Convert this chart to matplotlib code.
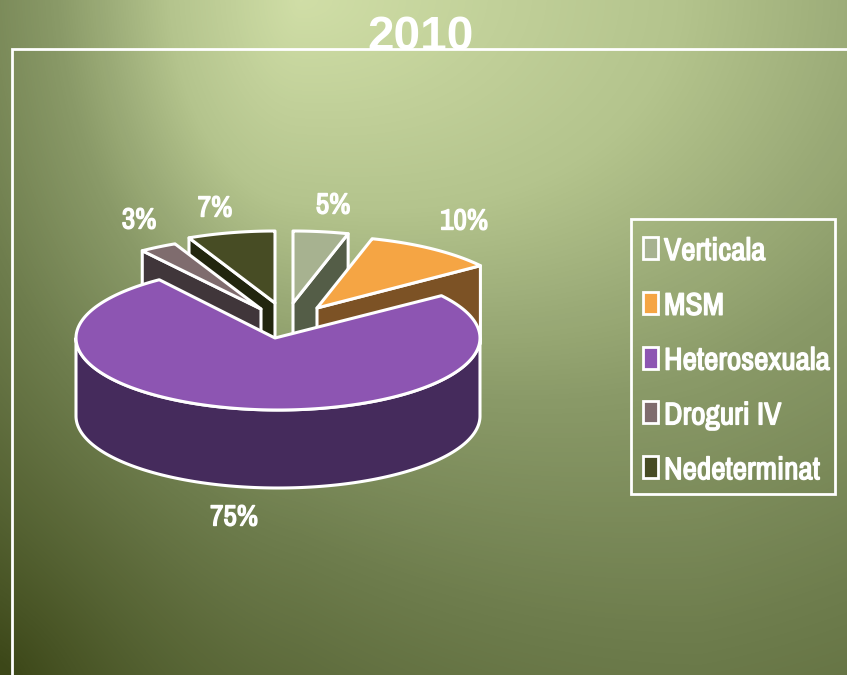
import numpy as np
import matplotlib
matplotlib.use("Agg")
import matplotlib.pyplot as plt
import matplotlib.patheffects as pe
from matplotlib.patches import Polygon, Rectangle
from matplotlib.colors import LinearSegmentedColormap

title = "2010"
labels = ["Verticala", "MSM", "Heterosexuala", "Droguri IV", "Nedeterminat"]
# the drawn shares, a bit off the rounded labels
values = [4.4, 10.6, 75, 3, 7]
pct_labels = ["5%", "10%", "75%", "3%", "7%"]

top_colors = ["#A7B290", "#F5A544", "#8D55B2", "#7F6C6E", "#474C24"]
side_colors = ["#545D47", "#7C5225", "#452B5C", "#40363A", "#22260F"]

# everything is in pixels of the 847x675 picture
W, H = 847, 675
CX, CY = 278, 338
APEX_X = 275
RX, RY = 202, 72
DEPTH = 78
offsets = [(15, -35), (39, -30), (0, 0), (-17, -29), (-3, -35)]
pct_pos = [(333, 205), (464, 221), (234, 517), (139, 220), (215, 208)]
NARROW = ["Archivo Narrow", "Liberation Sans"]
# the narrow font has no bold cut here, so thicken it with a thin outline
BOLD = [pe.withStroke(linewidth=1.0, foreground="white")]


def background():
    y, x = np.mgrid[0:H, 0:W]
    dx = x - 300.0
    ax_x = np.where(dx < 0, 430.0, 1150.0)
    # no jump at dx = 0, the lower right just fades out slower
    ax_y = 720.0 + 100.0 * np.clip(dx / 400.0, 0, 1)
    t = np.sqrt((dx / ax_x) ** 2 + (y / ax_y) ** 2)
    # extra darkening towards the bottom left corner
    corner = np.exp(-np.hypot(x, H - y) / 300.0)
    return t + 0.4 * corner


def slice_angles():
    # clockwise from 12 o'clock
    fr = np.cumsum([0] + values) / sum(values) * 360
    return 90 - fr[:-1], 90 - fr[1:]


def rim(start, end, ox, oy, dy=0):
    a = np.radians(np.linspace(start, end, 200))
    return np.column_stack([CX + ox + RX * np.cos(a), CY + oy - RY * np.sin(a) + dy])


fig = plt.figure(figsize=(W / 100, H / 100), dpi=100)
ax = fig.add_axes([0, 0, 1, 1])
ax.set_xlim(0, W)
ax.set_ylim(H, 0)
ax.axis("off")

cmap = LinearSegmentedColormap.from_list(
    "bg", [(0, "#D3E1A9"), (0.22, "#B4C48D"), (0.39, "#8A9A68"), (0.57, "#6E7D4D"), (1, "#3C4718")]
)
ax.imshow(background(), cmap=cmap, vmin=0, vmax=1.55, extent=(0, W, H, 0), aspect="auto",
          zorder=0, interpolation="bilinear")

# plot area frame, runs off the picture on the right and at the bottom
ax.plot([12, 12, W + 5], [H + 5, 49, 49], color="white", lw=2, zorder=7, solid_joinstyle="miter")

starts, ends = slice_angles()
edge = dict(edgecolor="white", linewidth=2.2, joinstyle="round")

# back slices first, the big one goes over them
z = 2
for i in [4, 3, 0, 1]:
    ox, oy = offsets[i]
    apex = (CX + ox, CY + oy)
    # visible cut face: clockwise end for right side, start for left side
    p = rim(ends[i], ends[i], ox, oy)[0] if i < 2 else rim(starts[i], starts[i], ox, oy)[0]
    wall = [apex, p, (p[0], p[1] + DEPTH), (apex[0], apex[1] + DEPTH)]
    ax.add_patch(Polygon(wall, facecolor=side_colors[i], zorder=z, **edge))
    top = np.vstack([[apex], rim(starts[i], ends[i], ox, oy)])
    ax.add_patch(Polygon(top, facecolor=top_colors[i], zorder=z + 0.5, **edge))
    z += 1

# Heterosexuala, the front slice with its outer wall
front = rim(180, 360, 0, 0)
wall = np.vstack([front, rim(360, 180, 0, 0, DEPTH)])
ax.add_patch(Polygon(wall, facecolor=side_colors[2], zorder=z, **edge))
top = np.vstack([[(APEX_X, CY)], rim(starts[2], ends[2], 0, 0)])
ax.add_patch(Polygon(top, facecolor=top_colors[2], zorder=z + 0.5, **edge))

for txt, (x, y) in zip(pct_labels, pct_pos):
    ax.text(x, y, txt, color="white", fontsize=21, fontweight="bold", family=NARROW,
            ha="center", va="center", zorder=8, path_effects=BOLD)

ax.text(420.5, 37, title, color="white", fontsize=34.5, fontweight="bold", family="Liberation Sans",
        ha="center", va="center", zorder=6)

# legend
ax.add_patch(Rectangle((631, 219), 204, 275, fill=False, edgecolor="white", lw=2, zorder=8))
for i, name in enumerate(labels):
    yc = 248 + i * 54.8
    ax.add_patch(Rectangle((642.5, yc - 11), 15, 22, facecolor=top_colors[i], edgecolor="white",
                           lw=2, zorder=9))
    ax.text(664, yc + 3, name, color="white", fontsize=22.6, fontweight="bold", family=NARROW,
            ha="left", va="center", zorder=9, path_effects=BOLD)

fig.savefig("out.png", dpi=100)
